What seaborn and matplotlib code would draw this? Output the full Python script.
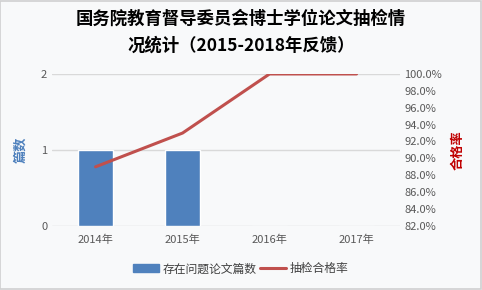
import matplotlib
matplotlib.use("Agg")
import matplotlib.pyplot as plt
import seaborn as sns
import pandas as pd
from matplotlib.patches import Rectangle
from matplotlib.lines import Line2D
from matplotlib.ticker import FuncFormatter

years = ["2014年", "2015年", "2016年", "2017年"]
problem_counts = [1, 1, 0, 0]
pass_rates = [89.0, 93.0, 100.0, 100.0]

sns.set_style("white")
plt.rcParams['font.family'] = ['Noto Sans CJK SC', 'DejaVu Sans']

bg = "#f8f9fa"
fig = plt.figure(figsize=(4.82, 2.90), dpi=100, facecolor=bg)
ax = fig.add_axes([0.108, 0.221, 0.722, 0.524])
ax.set_facecolor(bg)

df = pd.DataFrame({"year": years, "count": problem_counts, "rate": pass_rates})
sns.barplot(data=df, x="year", y="count", color="#4F81BD", width=0.4,
            saturation=1, ax=ax, zorder=3)
ax.set_ylim(0, 2)
ax.set_yticks([0, 1, 2])
ax.grid(axis="y", color="#d9d9d9", linewidth=1, zorder=0)
for s in ax.spines.values():
    s.set_visible(False)
ax.set_xlabel("")
ax.set_ylabel("篇数", color="#4F81BD", fontsize=9.5, fontweight="bold", labelpad=10)
ax.tick_params(axis="both", length=0, labelsize=8, labelcolor="#595959")
ax.tick_params(axis="x", pad=6)

ax2 = ax.twinx()
sns.lineplot(x=list(range(len(years))), y=pass_rates, color="#C0504D",
             linewidth=2.2, ax=ax2, zorder=4)
ax.set_xlim(-0.5, 3.5)
ax2.set_ylim(82, 100)
ax2.set_yticks([82, 84, 86, 88, 90, 92, 94, 96, 98, 100])
ax2.yaxis.set_major_formatter(FuncFormatter(lambda v, p: f"{v:.1f}%"))
for s in ax2.spines.values():
    s.set_visible(False)
ax2.tick_params(axis="y", length=0, labelsize=8, labelcolor="#595959", pad=3)
ax2.set_ylabel("合格率", color="#C00000", fontsize=9.5, fontweight="bold", labelpad=6)

fig.suptitle("国务院教育督导委员会博士学位论文抽检情\n况统计（2015-2018年反馈）",
             x=0.5, y=0.965, fontsize=12.5, fontweight="bold", color="black",
             linespacing=1.6)

handles = [Rectangle((0, 0), 1, 1, color="#4F81BD"),
           Line2D([0], [0], color="#C0504D", linewidth=2.2)]
fig.legend(handles, ["存在问题论文篇数", "抽检合格率"], loc="center",
           bbox_to_anchor=(0.5, 0.073), ncol=2, frameon=False, fontsize=8.5,
           handlelength=2.2, handletextpad=0.3, columnspacing=0.3,
           labelcolor="#404040")

fig.patches.append(Rectangle((0.001, 0.002), 0.996, 0.995, transform=fig.transFigure,
                             fill=False, edgecolor="#d0d0d0", linewidth=1.2))
fig.savefig("out.png", dpi=100, facecolor=bg)
